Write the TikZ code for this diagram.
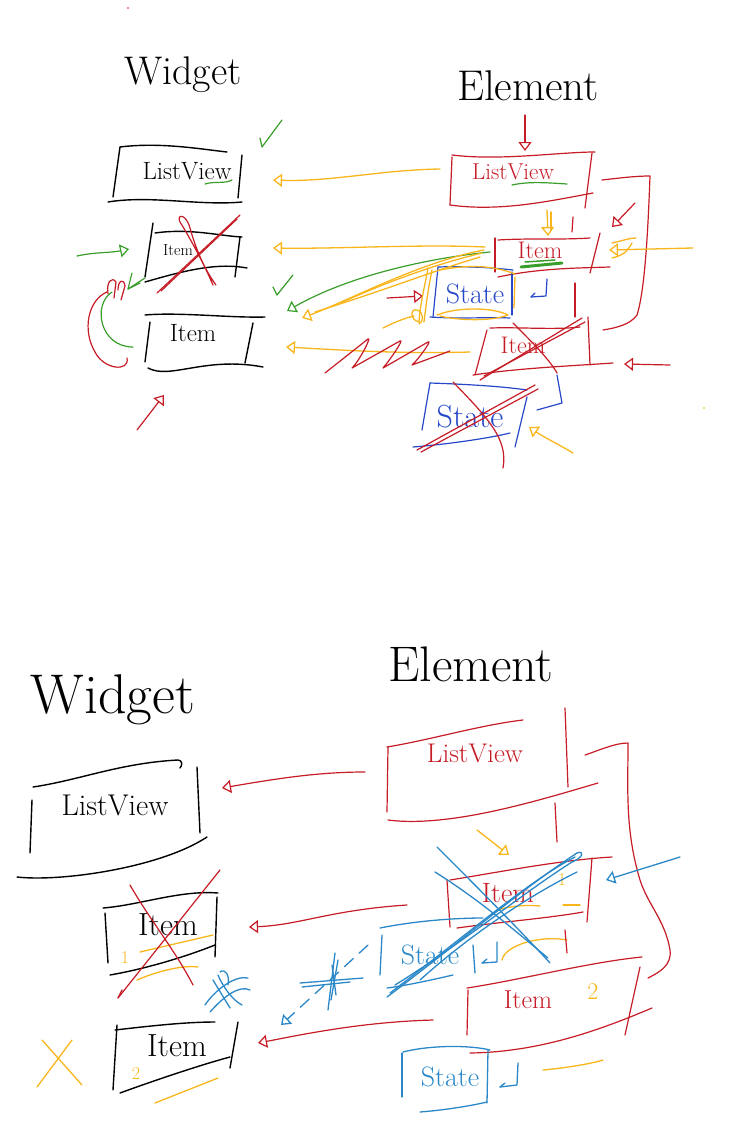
\documentclass[tikz,border=0pt]{standalone}
\usepackage{fontspec}
\usetikzlibrary{arrows.meta}
\definecolor{cred}{RGB}{198,28,38}
\definecolor{cyel}{RGB}{248,182,28}
\definecolor{cgrn}{RGB}{58,158,42}
\definecolor{cblu}{RGB}{38,72,200}
\definecolor{cblt}{RGB}{42,136,200}
\newcommand{\fs}[1]{\fontsize{#1}{#1}\selectfont}
\begin{document}
\begin{tikzpicture}[x=1pt,y=-1pt,line cap=round,line join=round,
  kk/.style={draw=black,line width=1.4pt},
  rr/.style={draw=cred,line width=1.2pt},
  yy/.style={draw=cyel,line width=1.3pt},
  gg/.style={draw=cgrn,line width=1.2pt},
  bb/.style={draw=cblu,line width=1.2pt},
  bt/.style={draw=cblt,line width=1.3pt},
  ohead/.style={-{Triangle[open,length=9pt,width=13pt]}},
  txt/.style={inner sep=0pt},
  every node/.style={inner sep=0pt}]
\useasboundingbox (0,0) rectangle (738,1146);

% ================= TOP HALF =================
\node[txt,font=\fs{40}] (tW) at (183,75) {Widget};
\node[txt,font=\fs{43}] (tE) at (528,86) {Element};

% --- widget ListView
\draw[kk] (120,147) .. controls (160,142) and (200,149) .. (227,152);
\draw[kk] (120,147) -- (113,197);
\draw[kk] (242,155) -- (238,198);
\draw[kk] (108,202) .. controls (150,195) and (200,206) .. (242,202);
\node[txt,font=\fs{25}] (wLV) at (187,171) {ListView};
\draw[gg] (205,184) .. controls (215,181) and (225,184) .. (232,180);
\draw[gg] (260,138) -- (262,147) -- (282,120);

% --- widget Item 1 (crossed)
\draw[kk] (153,223) -- (145,277);
\draw[kk] (155,233) .. controls (190,228) and (220,236) .. (242,237);
\draw[kk] (240,237) -- (235,277);
\draw[kk] (145,282) .. controls (180,272) and (215,262) .. (247,268);
\node[txt,font=\fs{16}] (wI1) at (178,250) {Item};
\draw[rr] (157,293) -- (240,215);
\draw[rr] (161,291) -- (237,219);
\draw[rr] (213,285) .. controls (200,255) and (185,230) .. (180,222) .. controls (176,214) and (186,213) .. (190,228) .. controls (196,250) and (205,270) .. (216,285);

% green arrow into item 1
\coordinate (g1s) at (77,256);
\coordinate (g1e) at (129,249);
\draw[gg,ohead] (g1s) .. controls (95,252) and (110,253) .. (g1e);
% small heads at lower left
\draw[gg] (132,273) -- (128,289) -- (140,283);
\draw[gg] (128,289) -- (145,278);
\draw[rr] (108,294) .. controls (106,282) and (112,276) .. (116,282) -- (114,298);
\draw[rr] (118,290) .. controls (118,280) and (124,278) .. (125,286) -- (121,300);
\draw[gg] (133,347) .. controls (100,347) and (92,305) .. (112,292);
\draw[rr] (127,358) .. controls (130,372) and (104,370) .. (95,352) .. controls (82,330) and (88,300) .. (107,292);

% --- widget Item 2
\draw[kk] (145,315) .. controls (180,312) and (230,318) .. (265,317);
\draw[kk] (150,322) -- (145,362);
\draw[kk] (253,323) -- (245,363);
\draw[kk] (148,368) .. controls (170,380) and (205,356) .. (263,367);
\node[txt,font=\fs{25}] (wI2) at (193,333) {Item};
\coordinate (r0s) at (137,430);
\coordinate (r0e) at (164,395);
\draw[rr,ohead] (r0s) -- (r0e);

% --- element ListView
\coordinate (rds) at (525,115);
\coordinate (rde) at (525,151);
\draw[rr,ohead] (rds) -- (rde);
\draw[rr] (452,155) .. controls (500,161) and (560,152) .. (595,152);
\draw[rr] (452,157) -- (450,205);
\draw[rr] (450,205) .. controls (500,212) and (550,201) .. (593,193);
\draw[rr] (592,153) -- (585,208);
\node[txt,font=\fs{23},text=cred] (eLV) at (513,172) {ListView};
\draw[gg] (512,185) .. controls (530,181) and (550,183) .. (567,184);
\draw[rr] (602,180) .. controls (620,178) and (635,176) .. (650,176) .. controls (648,230) and (645,290) .. (637,315) .. controls (630,325) and (615,328) .. (603,330);
\coordinate (r1s) at (635,203);
\coordinate (r1e) at (612,227);
\draw[rr,ohead] (r1s) -- (r1e);
\coordinate (y0s) at (547,210);
\coordinate (y0e) at (548,236);
\draw[yy,ohead] (y0s) -- (y0e);
\draw[yy] (551,212) -- (551,230);
\draw[rr] (573,217) -- (572,232);

% --- element Item (kept)
\draw[rr] (498,240) .. controls (530,238) and (560,240) .. (590,238);
\draw[rr] (495,238) -- (495,272);
\draw[rr] (498,277) .. controls (540,268) and (580,268) .. (610,267);
\draw[rr] (600,233) -- (590,273);
\node[txt,font=\fs{24},text=cred] (eI1) at (540,250) {Item};
\draw[gg,line width=3pt] (521,267) -- (562,263);
\draw[gg,line width=1.5pt] (525,262) -- (555,260);
\coordinate (y5s) at (693,248);
\coordinate (y5e) at (609,250);
\draw[yy,ohead] (y5s) -- (y5e);
\draw[yy] (612,243) .. controls (625,240) and (630,238) .. (636,238);
\draw[yy] (612,258) .. controls (625,255) and (628,250) .. (632,243);

% --- element State (blue)
\draw[bb] (438,267) -- (433,317);
\draw[bb] (438,267) .. controls (470,266) and (495,268) .. (513,270);
\draw[bb] (430,317) .. controls (460,319) and (490,317) .. (510,318);
\draw[bb] (512,272) -- (512,315);
\node[txt,font=\fs{28},text=cblu] (eS1) at (475,294) {State};
\draw[bb] (547,279) -- (546,296) -- (531,297);
\draw[bb] (531,297) -- (535,293);
\coordinate (r2s) at (387,298);
\coordinate (r2e) at (423,296);
\draw[rr,ohead] (r2s) -- (r2e);
\draw[rr] (575,283) -- (575,317);
% yellow scribbles around state
\draw[yy] (440,270) .. controls (470,264) and (495,266) .. (515,274);
\draw[yy] (437,315) .. controls (460,306) and (495,308) .. (508,315) .. controls (490,322) and (455,320) .. (440,316);
\draw[yy] (432,270) .. controls (428,290) and (426,305) .. (424,322);
\draw[yy] (428,268) .. controls (424,290) and (420,305) .. (419,322);
\draw[yy] (515,277) -- (514,308);
\draw[yy] (419,322) .. controls (410,320) and (410,308) .. (417,310) .. controls (424,312) and (424,322) .. (419,324);
\draw[yy] (383,328) .. controls (395,322) and (405,318) .. (414,316);

% --- element Item (crossed)
\draw[rr] (490,328) .. controls (520,327) and (555,330) .. (580,327);
\draw[rr] (487,330) -- (475,375);
\draw[rr] (473,375) .. controls (520,368) and (570,366) .. (613,363);
\draw[rr] (588,317) -- (590,365);
\node[txt,font=\fs{24},text=cred] (eI2) at (523,345) {Item};
\draw[rr] (480,380) -- (582,318);
\draw[rr] (484,376) -- (585,322);
\draw[rr] (513,323) .. controls (530,340) and (550,360) .. (557,373);
\coordinate (r3s) at (670,365);
\coordinate (r3e) at (624,364);
\draw[rr,ohead] (r3s) -- (r3e);

% --- element State 2 (crossed)
\draw[bb] (430,383) .. controls (460,384) and (500,386) .. (527,390);
\draw[bb] (430,383) -- (422,430);
\draw[bb] (413,447) .. controls (450,444) and (490,438) .. (510,433);
\draw[bb] (527,397) -- (515,447);
\node[txt,font=\fs{32},text=cblu] (eS2) at (470,417) {State};
\draw[bb] (557,375) -- (562,403) -- (537,410);
\draw[rr] (417,450) -- (535,385);
\draw[rr] (421,452) -- (538,389);
\draw[rr] (453,382) .. controls (490,420) and (508,440) .. (503,468);
\coordinate (y6s) at (573,453);
\coordinate (y6e) at (529,427);
\draw[yy,ohead] (y6s) .. controls (560,445) and (545,438) .. (y6e);

% --- connectors element -> widget
\coordinate (ya1s) at (440,169);
\coordinate (ya1e) at (273,180);
\draw[yy,ohead] (ya1s) .. controls (380,170) and (330,182) .. (ya1e);
\coordinate (ya2s) at (485,247);
\coordinate (ya2e) at (273,248);
\draw[yy,ohead] (ya2s) .. controls (420,244) and (340,249) .. (ya2e);
\coordinate (gas) at (490,252);
\coordinate (gae) at (287,311);
\draw[gg,ohead] (gas) .. controls (430,258) and (350,275) .. (gae);
\draw[gg] (273,287) -- (277,295) -- (293,275);
\coordinate (ya3s) at (484,250);
\coordinate (ya3e) at (302,318);
\draw[yy,ohead] (ya3s) .. controls (420,262) and (350,300) .. (ya3e);
\draw[yy] (482,253) .. controls (420,268) and (370,290) .. (340,303);
\draw[yy] (480,257) .. controls (430,272) and (400,285) .. (315,312);
\coordinate (ya4s) at (470,352);
\coordinate (ya4e) at (286,347);
\draw[yy,ohead] (ya4s) .. controls (400,354) and (340,350) .. (ya4e);
\draw[rr] (325,373) -- (368,339) .. controls (372,336) and (360,360) .. (352,368) -- (400,341) .. controls (405,338) and (390,360) .. (383,368) -- (428,342) .. controls (433,339) and (418,360) .. (412,365) -- (450,351);

% stray dots
\fill[cred] (128,8) circle (0.8);
\fill[cyel] (704,408) circle (0.8);

% ================= BOTTOM HALF =================
\node[txt,font=\fs{56}] (bW) at (113,700) {Widget};
\node[txt,font=\fs{50}] (bE) at (471,664) {Element};

% --- widget ListView
\draw[kk] (33,787) .. controls (80,780) and (120,763) .. (178,760) .. controls (182,760) and (183,765) .. (180,768);
\draw[kk] (32,800) -- (30,853);
\draw[kk] (197,767) -- (200,833);
\draw[kk] (17,877) .. controls (60,882) and (160,868) .. (207,837);
\node[txt,font=\fs{30}] (bLV) at (115,805) {ListView};

% --- widget Item A (crossed)
\draw[kk] (103,908) .. controls (140,905) and (180,890) .. (218,893);
\draw[kk] (105,913) -- (108,963);
\draw[kk] (217,897) -- (215,957);
\draw[kk] (110,975) .. controls (150,968) and (190,955) .. (215,945);
\node[txt,font=\fs{32}] (bIA) at (168,925) {Item};
\node[txt,font=\fs{18},text=cyel] (bIA1) at (125,958) {1};
\draw[yy] (140,952) -- (213,935);
\draw[yy] (137,980) .. controls (160,970) and (185,965) .. (198,967);
\draw[rr] (118,998) -- (220,870);
\draw[rr] (118,998) -- (122,990);
\draw[rr] (130,885) .. controls (150,920) and (175,950) .. (193,985);

% blue scribble between items
\draw[bt] (205,1005) .. controls (215,990) and (235,975) .. (248,978);
\draw[bt] (210,1012) .. controls (225,995) and (240,985) .. (250,990);
\draw[bt] (218,975) .. controls (222,985) and (232,1000) .. (242,1005);
\draw[bt] (213,980) -- (230,1008);
\draw[bt] (220,972) .. controls (225,968) and (230,975) .. (228,985);

% --- widget Item B
\draw[kk] (115,1030) .. controls (150,1026) and (185,1022) .. (215,1022);
\draw[kk] (117,1025) -- (113,1090);
\draw[kk] (238,1022) -- (230,1068);
\draw[kk] (120,1093) .. controls (150,1082) and (200,1065) .. (230,1057);
\node[txt,font=\fs{32}] (bIB) at (177,1046) {Item};
\node[txt,font=\fs{18},text=cyel] (bIB2) at (136,1074) {2};
\draw[yy] (155,1103) -- (218,1078);
\draw[yy] (37,1087) -- (72,1040);
\draw[yy] (42,1040) -- (82,1085);

% --- element ListView
\draw[rr] (387,747) .. controls (430,740) and (480,725) .. (523,720);
\draw[rr] (388,747) -- (387,812);
\draw[rr] (388,820) .. controls (450,828) and (540,800) .. (598,783);
\draw[rr] (565,708) -- (568,787);
\node[txt,font=\fs{27},text=cred] (bELV) at (475,753) {ListView};
\draw[rr] (585,755) .. controls (600,750) and (615,743) .. (628,743) .. controls (628,790) and (625,830) .. (640,880) .. controls (648,905) and (665,920) .. (670,950) .. controls (672,965) and (660,972) .. (648,978);
\draw[rr] (555,803) -- (557,842);
\coordinate (yb1s) at (477,830);
\coordinate (yb1e) at (509,855);
\draw[yy,ohead] (yb1s) -- (yb1e);

% --- element Item 1 (crossed blue)
\draw[rr] (450,880) .. controls (500,872) and (560,860) .. (612,857);
\draw[rr] (447,880) -- (450,927);
\draw[rr] (457,928) .. controls (500,922) and (550,918) .. (583,912);
\draw[rr] (592,858) -- (587,922);
\node[txt,font=\fs{28},text=cred] (bEI1) at (508,893) {Item};
\node[txt,font=\fs{18},text=cyel] (bEI1n) at (562,880) {1};
\draw[yy] (563,905) -- (580,905);
\draw[yy] (497,910) .. controls (515,905) and (530,905) .. (540,906);
\coordinate (bl1s) at (680,857);
\coordinate (bl1e) at (606,880);
\draw[bt,ohead] (bl1s) -- (bl1e);

% --- element State (blue)
\draw[bt] (380,928) .. controls (420,920) and (460,918) .. (483,918);
\draw[bt] (382,935) -- (380,975);
\draw[bt] (473,945) -- (475,973);
\draw[bt] (387,988) .. controls (410,985) and (440,978) .. (453,975);
\node[txt,font=\fs{28},text=cblt] (bES1) at (430,955) {State};
\draw[bt] (497,942) -- (497,962) -- (482,963);
\draw[bt] (482,963) -- (487,959);
\draw[yy] (502,960) .. controls (505,945) and (540,935) .. (567,940);
\draw[rr] (565,930) -- (567,953);

% blue X over item/state
\draw[bt] (437,847) .. controls (470,880) and (520,930) .. (550,963);
\draw[bt] (435,872) .. controls (480,900) and (520,935) .. (548,958);
\draw[bt] (387,997) .. controls (450,950) and (520,890) .. (577,853);
\draw[bt] (390,993) .. controls (460,940) and (530,880) .. (575,857);
\draw[bt] (577,853) .. controls (585,850) and (583,858) .. (572,862) .. controls (520,895) and (460,945) .. (395,985);
\draw[bt] (577,872) .. controls (530,895) and (470,935) .. (420,980);

% --- element Item 2
\draw[rr] (467,988) .. controls (520,980) and (590,962) .. (642,957);
\draw[rr] (468,990) -- (467,1035);
\draw[rr] (640,967) -- (625,1035);
\draw[rr] (470,1053) .. controls (540,1052) and (600,1030) .. (652,1008);
\node[txt,font=\fs{26},text=cred] (bEI2) at (528,1000) {Item};
\node[txt,font=\fs{24},text=cyel] (bEI2n) at (593,992) {2};

% --- element State 2
\draw[bt] (403,1052) .. controls (430,1045) and (470,1045) .. (490,1050);
\draw[bt] (402,1053) -- (402,1097);
\draw[bt] (488,1050) -- (487,1103);
\draw[bt] (420,1112) .. controls (445,1110) and (470,1106) .. (487,1102);
\node[txt,font=\fs{28},text=cblt] (bES2) at (450,1077) {State};
\draw[bt] (518,1063) -- (517,1085) -- (500,1087);
\draw[bt] (500,1087) -- (505,1083);
\draw[yy] (543,1070) .. controls (565,1068) and (590,1064) .. (603,1060);

% --- connectors element -> widget (bottom)
\coordinate (rb1s) at (365,772);
\coordinate (rb1e) at (222,788);
\draw[rr,ohead] (rb1s) .. controls (320,772) and (280,778) .. (rb1e);
\coordinate (rb2s) at (407,905);
\coordinate (rb2e) at (249,927);
\draw[rr,ohead] (rb2s) .. controls (330,910) and (300,925) .. (rb2e);
\coordinate (rb3s) at (433,1020);
\coordinate (rb3e) at (258,1043);
\draw[rr,ohead] (rb3s) .. controls (360,1022) and (300,1035) .. (rb3e);
\coordinate (bds) at (368,945);
\coordinate (bde) at (281,1025);
\draw[bt,dashed,dash pattern=on 12pt off 8pt,ohead] (bds) -- (bde);
\draw[bt] (300,983) -- (363,978);
\draw[bt] (302,987) -- (350,982);
\draw[bt] (335,953) -- (328,1010);
\draw[bt] (338,960) -- (331,1000);
\draw[bt] (332,965) -- (336,995);
\end{tikzpicture}
\end{document}
